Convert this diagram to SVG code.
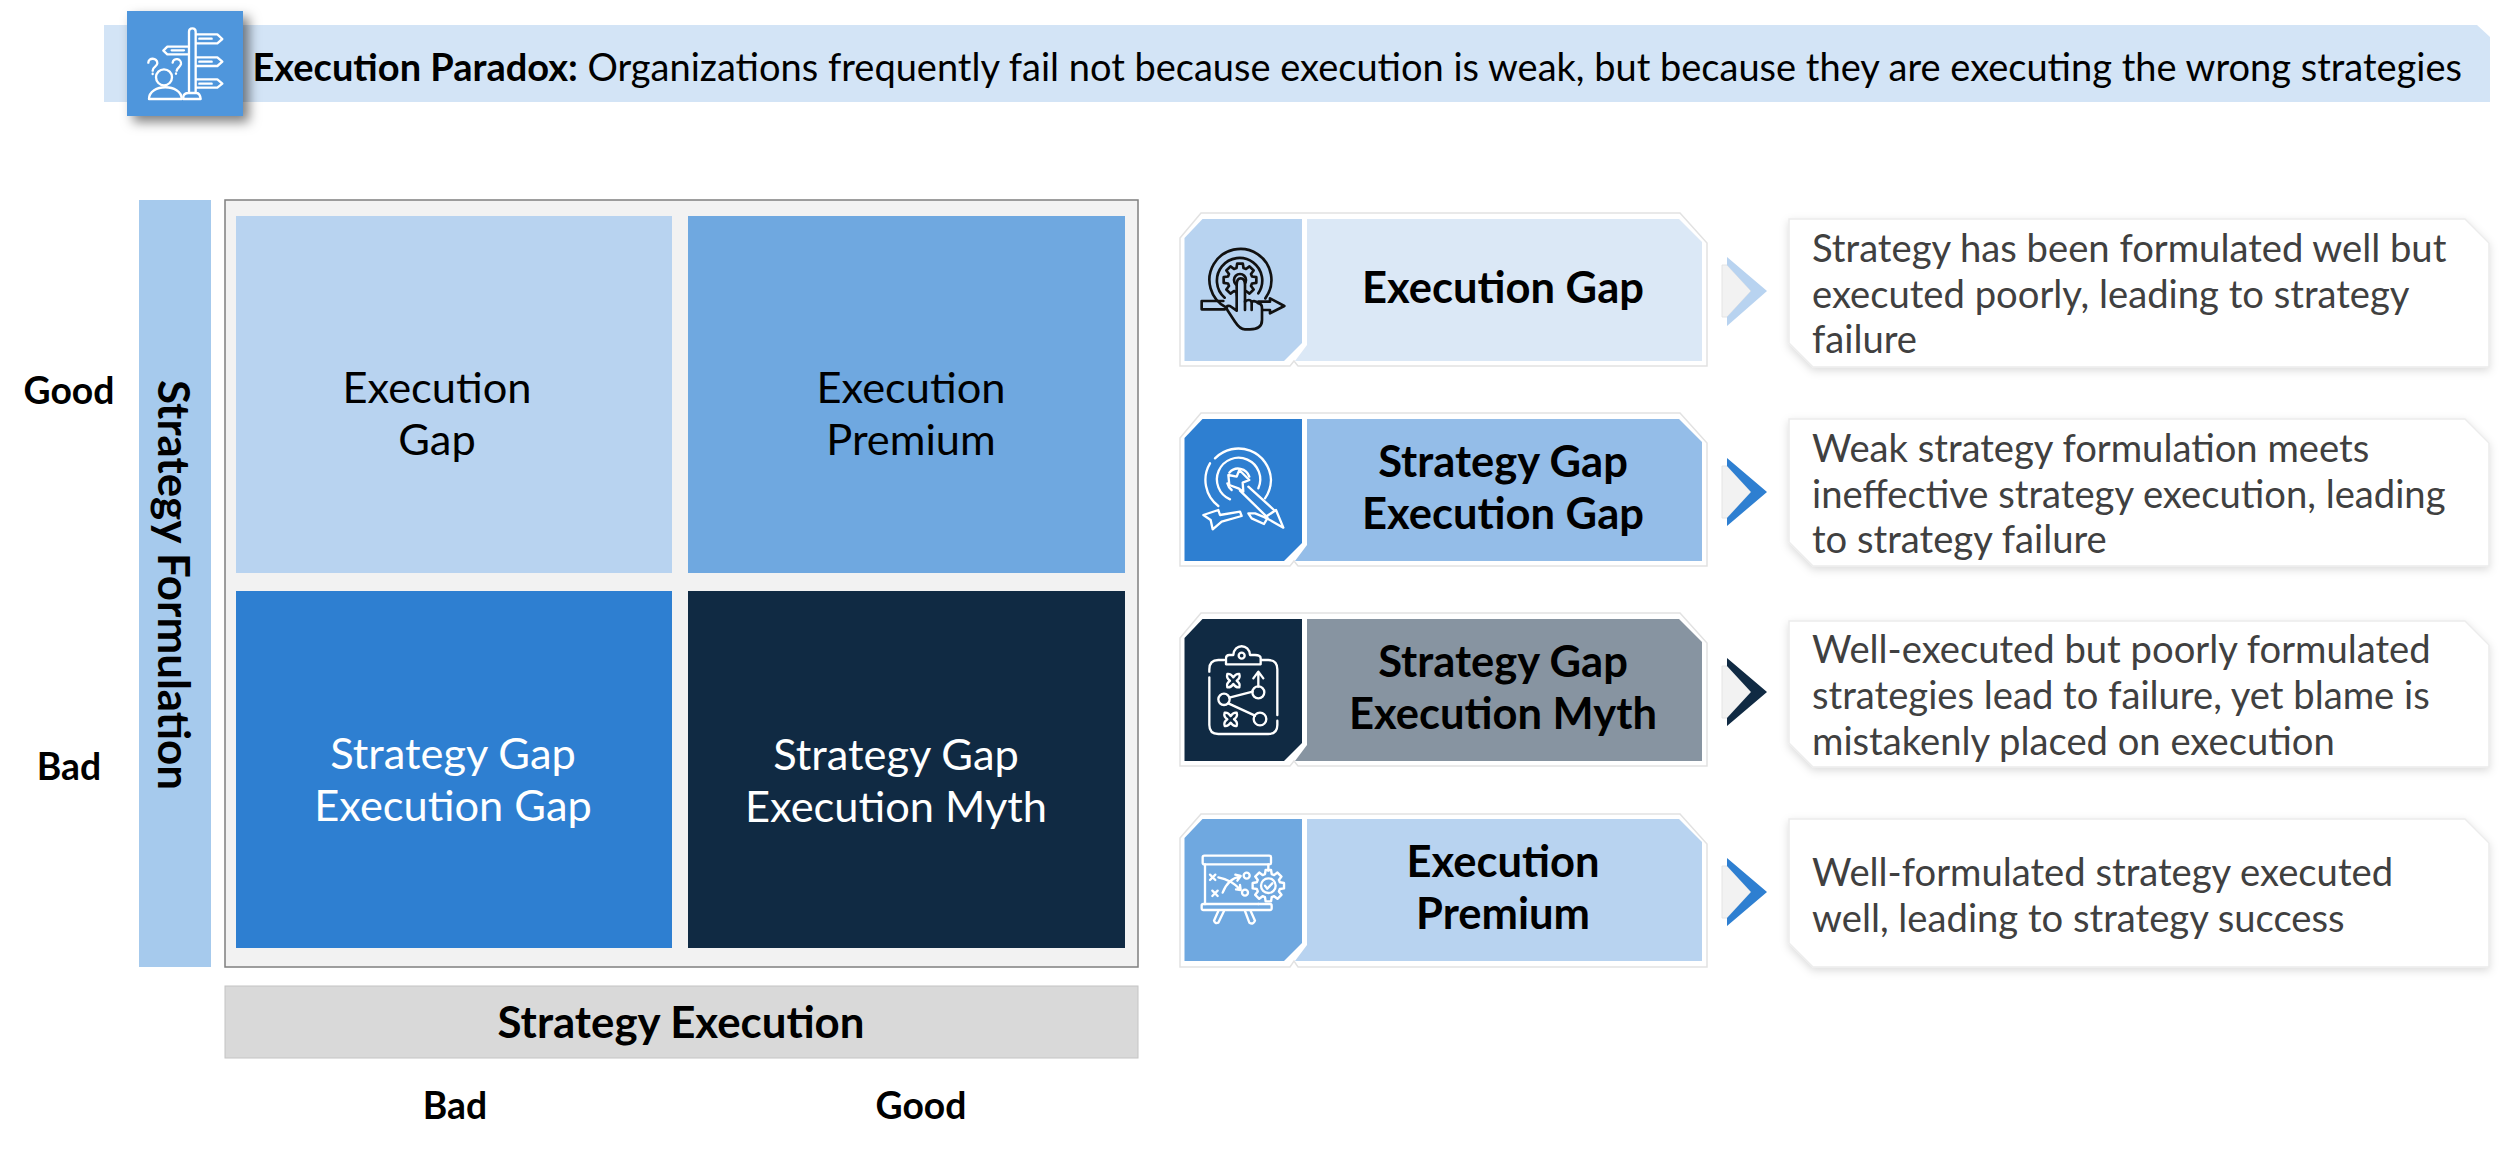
<svg xmlns="http://www.w3.org/2000/svg" width="2500" height="1151" viewBox="0 0 2500 1151">
<defs>
<style>
text{font-family:Lato,"Open Sans","Liberation Sans",sans-serif}
.b{font-weight:700;fill:#000}
.t{font-weight:700;font-size:43.500px;fill:#000;text-anchor:middle}
.m{font-size:43.400px;text-anchor:middle;fill:#000}
.w{fill:#fff}
.d{font-size:38.200px;fill:#404040}
.ax{font-weight:700;font-size:37.300px;text-anchor:middle;fill:#000}
.card{fill:#fff;stroke:#e2e2e2;stroke-width:1.500}
.box{fill:#fff;stroke:#ececec;stroke-width:1.500;filter:url(#s)}
.iw{fill:none;stroke:#fff;stroke-width:7;stroke-linejoin:round;stroke-linecap:round}
.ik{fill:none;stroke:#111;stroke-width:8;stroke-linejoin:round;stroke-linecap:round}
.g{fill:#f2f2f2;stroke:#e4e4e4;stroke-width:1}
</style>
<filter id="s" x="-5%" y="-10%" width="110%" height="125%"><feDropShadow dx="0" dy="3" stdDeviation="4" flood-color="#000" flood-opacity=".14"/></filter>
<filter id="s2" x="-30%" y="-30%" width="170%" height="170%"><feDropShadow dx="6" dy="6" stdDeviation="6" flood-color="#000" flood-opacity=".5"/></filter>
<path id="gear" d="M72-21L98-17V17L72 21L66 36L82 57L57 82L36 66L21 72L17 98H-17L-21 72L-36 66L-57 82L-82 57L-66 36L-72 21L-98 17V-17L-72-21L-66-36L-82-57L-57-82L-36-66L-21-72L-17-98H17L21-72L36-66L57-82L82-57L66-36Z"/>
<path id="cross" d="M-18-20Q-8-22 0-10Q8-22 18-20Q22-8 10 0Q22 8 18 20Q8 22 0 10Q-8 22-18 20Q-22 8-10 0Q-22-8-18-20Z"/>
</defs>
<rect width="2500" height="1151" fill="#fff"/>

<g id="banner">
<path d="M104 25H2477L2490 37V102H104Z" fill="#d3e4f6"/>
<text x="252.500" y="81" font-size="38" class="b">Execution Paradox:<tspan font-weight="400" dx="9.500">Organizations frequently fail not because execution is weak, but because they are executing the wrong strategies</tspan></text>
</g>
<g id="banner-icon">
<rect x="127" y="11" width="116" height="105" fill="#4f96dc" filter="url(#s2)"/>
<g class="iw" transform="translate(80,0) scale(.33333)">
<path d="M327 278V95Q327 85 337 85Q347 85 347 95V278M310 297V290Q312 279 325 279H350Q360 280 362 297ZM347 103H412L427 117L412 130H347M358 116H395M327 140H262L250 152L262 163H327M275 151H312M347 172H412L427 185L412 198H347M358 185H395M347 238H412L427 251L412 263H347M358 251H395"/>
<circle cx="252" cy="232" r="24"/>
<path d="M207 297C207 250 305 250 305 297ZM205 188C205 172 232 172 232 190C232 200 218 200 218 212M218 221V222M278 188C280 172 305 175 303 192C300 203 292 203 290 212M288 220V221"/>
</g>
</g>

<g id="matrix">
<rect x="139" y="200" width="72" height="767" fill="#a6caed"/>
<text transform="translate(158,380) rotate(90)" font-size="43.900" class="b">Strategy Formulation</text>
<rect x="225" y="200" width="913" height="767" fill="#f2f2f2" stroke="#7f7f7f" stroke-width="1.500"/>
<rect x="236" y="216" width="436" height="357" fill="#b8d3f0"/>
<rect x="688" y="216" width="437" height="357" fill="#6fa8e0"/>
<rect x="236" y="591" width="436" height="357" fill="#2e7fd1"/>
<rect x="688" y="591" width="437" height="357" fill="#102a43"/>
<text class="m" x="437" y="403">Execution</text><text class="m" x="437" y="455">Gap</text>
<text class="m" x="911" y="403">Execution</text><text class="m" x="911" y="455">Premium</text>
<text class="m w" x="453" y="769">Strategy Gap</text><text class="m w" x="453" y="821">Execution Gap</text>
<text class="m w" x="896" y="770">Strategy Gap</text><text class="m w" x="896" y="822">Execution Myth</text>
<rect x="225" y="986" width="913" height="72" fill="#d9d9d9" stroke="#c4c4c4" stroke-width="1"/>
<text x="681" y="1038" font-size="43.800" text-anchor="middle" class="b">Strategy Execution</text>
<text class="ax" x="69" y="404">Good</text>
<text class="ax" x="69" y="780">Bad</text>
<text class="ax" x="455" y="1119">Bad</text>
<text class="ax" x="921" y="1119">Good</text>
</g>

<g id="card-1">
<path class="card" d="M1180 238L1201 213H1680L1707 243V366H1298L1294 361L1290 366H1180Z"/>
<path fill="#b8d3f0" d="M1184.500 238L1202.500 219H1302V343L1284 361H1184.500Z"/>
<path fill="#dbe8f6" d="M1307 219H1679L1702 242V361H1295L1307 345Z"/>
<text class="t" x="1503" y="303">Execution Gap</text>
<g class="ik" transform="translate(1190,230) scale(.33333)">
<path d="M105 238H35V213H100M205 215H240V205L283 228L240 250V240H205"/>
<path d="M108 232A93 93 0 1 1 226 205M104 203A68 68 0 1 1 205 190"/>
<use href="#gear" transform="translate(150,150) scale(.5)" style="stroke-width:16"/>
<circle cx="150" cy="150" r="18"/>
<path fill="#b8d3f0" d="M140 165Q140 145 152 145Q165 145 165 165V215Q178 205 185 215Q196 210 205 220Q216 220 216 235V270Q216 298 180 298H165Q150 298 135 275L112 240Q105 225 120 228L140 242Z"/>
<path d="M165 215V240M185 215V240"/>
</g>
</g>
<g id="card-2">
<path class="card" d="M1180 438L1201 413H1680L1707 443V566H1298L1294 561L1290 566H1180Z"/>
<path fill="#2e7fd1" d="M1184.500 438L1202.500 419H1302V543L1284 561H1184.500Z"/>
<path fill="#94bde8" d="M1307 419H1679L1702 442V561H1295L1307 545Z"/>
<text class="t" x="1503" y="477">Strategy Gap</text><text class="t" x="1503" y="529">Execution Gap</text>
<g class="iw" transform="translate(1190,430) scale(.33333)">
<path d="M75 85A98 98 0 0 1 243 150A98 98 0 0 1 225 205M60 100A98 98 0 0 0 85 228"/>
<path d="M120 208A65 65 0 1 1 205 175M118 128A35 35 0 0 1 178 140M112 160A35 35 0 0 0 125 180"/>
<path d="M118 165L115 135L140 140L148 120L178 150L158 158L160 185L145 175Z"/>
<path d="M150 182L232 262M175 170L252 240M225 262L258 240L280 293Z"/>
<path d="M40 255L85 240L90 255L150 245L155 258L95 275L68 298L62 270ZM175 250L185 265L222 282L232 265L195 250Z"/>
</g>
</g>
<g id="card-3">
<path class="card" d="M1180 638L1201 613H1680L1707 643V766H1298L1294 761L1290 766H1180Z"/>
<path fill="#102a43" d="M1184.500 638L1202.500 619H1302V743L1284 761H1184.500Z"/>
<path fill="#8794a1" d="M1307 619H1679L1702 642V761H1295L1307 745Z"/>
<text class="t" x="1503" y="677">Strategy Gap</text><text class="t" x="1503" y="729">Execution Myth</text>
<g class="iw" transform="translate(1190,630) scale(.33333)">
<path d="M102 90H85Q58 90 58 118V125M58 142V285Q58 312 85 312H235Q262 312 262 285V272M262 255V118Q262 90 235 90H215"/>
<path d="M108 103H212V85Q212 75 195 75H180C178 40 132 40 130 75H118Q108 75 108 85Z"/>
<circle cx="155" cy="77" r="9"/>
<use href="#cross" x="130" y="152"/><use href="#cross" x="122" y="268"/>
<path d="M205 170V130M190 145L205 125L220 145M118 203L188 185M115 220L195 257"/>
<circle cx="205" cy="187" r="18"/><circle cx="102" cy="208" r="17"/><circle cx="210" cy="267" r="19"/>
</g>
</g>
<g id="card-4">
<path class="card" d="M1180 838L1201 814H1680L1707 844V967H1298L1294 961L1290 967H1180Z"/>
<path fill="#6fa8e0" d="M1184.500 838L1202.500 819H1302V943L1284 961H1184.500Z"/>
<path fill="#b8d3f0" d="M1307 819H1679L1702 842V961H1295L1307 945Z"/>
<text class="t" x="1503" y="877">Execution</text><text class="t" x="1503" y="929">Premium</text>
<g class="iw" transform="translate(1190,830) scale(.33333)">
<rect x="38" y="77" width="205" height="26" rx="5"/><rect x="35" y="222" width="210" height="18" rx="5"/>
<path d="M45 103V222M235 103V122M205 222H205M85 243L72 272Q75 282 85 278L102 243M165 243L178 278Q190 285 195 272L182 243"/>
<path d="M60 134L76 150M76 134L60 150M67 182L83 198M83 182L67 198M85 142Q125 150 150 178M138 178L152 180L150 165M98 188Q115 145 150 140M136 134L152 138L142 152"/>
<circle cx="170" cy="137" r="9"/><circle cx="165" cy="188" r="9"/>
<use href="#gear" transform="translate(235,167) scale(.48)" style="stroke-width:15"/>
<circle cx="235" cy="167" r="22"/>
<path d="M225 167L232 176L247 160"/>
</g>
</g>

<g id="connectors">
<path class="g" d="M1722 265H1727L1751 291L1727 317H1722Z"/>
<path fill="#b8d3f0" d="M1727 257L1767 291L1727 326V317L1751 291L1727 265Z"/>
<path class="g" d="M1722 466H1727L1751 492L1727 518H1722Z"/>
<path fill="#2e7fd1" d="M1727 458L1767 492L1727 526V518L1751 492L1727 466Z"/>
<path class="g" d="M1722 666H1727L1751 692L1727 718H1722Z"/>
<path fill="#102a43" d="M1727 658L1767 692L1727 726V718L1751 692L1727 666Z"/>
<path class="g" d="M1722 866H1727L1751 892L1727 918H1722Z"/>
<path fill="#2e7fd1" d="M1727 858L1767 892L1727 926V918L1751 892L1727 866Z"/>
</g>

<g id="desc-1"><path class="box" d="M1789 219H2465L2489 243V367H1813L1789 343Z"/>
<text class="d" x="1812" y="262">Strategy has been formulated well but</text><text class="d" x="1812" y="308">executed poorly, leading to strategy</text><text class="d" x="1812" y="353">failure</text></g>
<g id="desc-2"><path class="box" d="M1789 419H2465L2489 443V566H1813L1789 542Z"/>
<text class="d" x="1812" y="462">Weak strategy formulation meets</text><text class="d" x="1812" y="508">ineffective strategy execution, leading</text><text class="d" x="1812" y="553">to strategy failure</text></g>
<g id="desc-3"><path class="box" d="M1789 621H2465L2489 645V767H1813L1789 743Z"/>
<text class="d" x="1812" y="663">Well-executed but poorly formulated</text><text class="d" x="1812" y="709">strategies lead to failure, yet blame is</text><text class="d" x="1812" y="755">mistakenly placed on execution</text></g>
<g id="desc-4"><path class="box" d="M1789 819H2465L2489 843V967H1813L1789 943Z"/>
<text class="d" x="1812" y="886">Well-formulated strategy executed</text><text class="d" x="1812" y="932">well, leading to strategy success</text></g>
</svg>
